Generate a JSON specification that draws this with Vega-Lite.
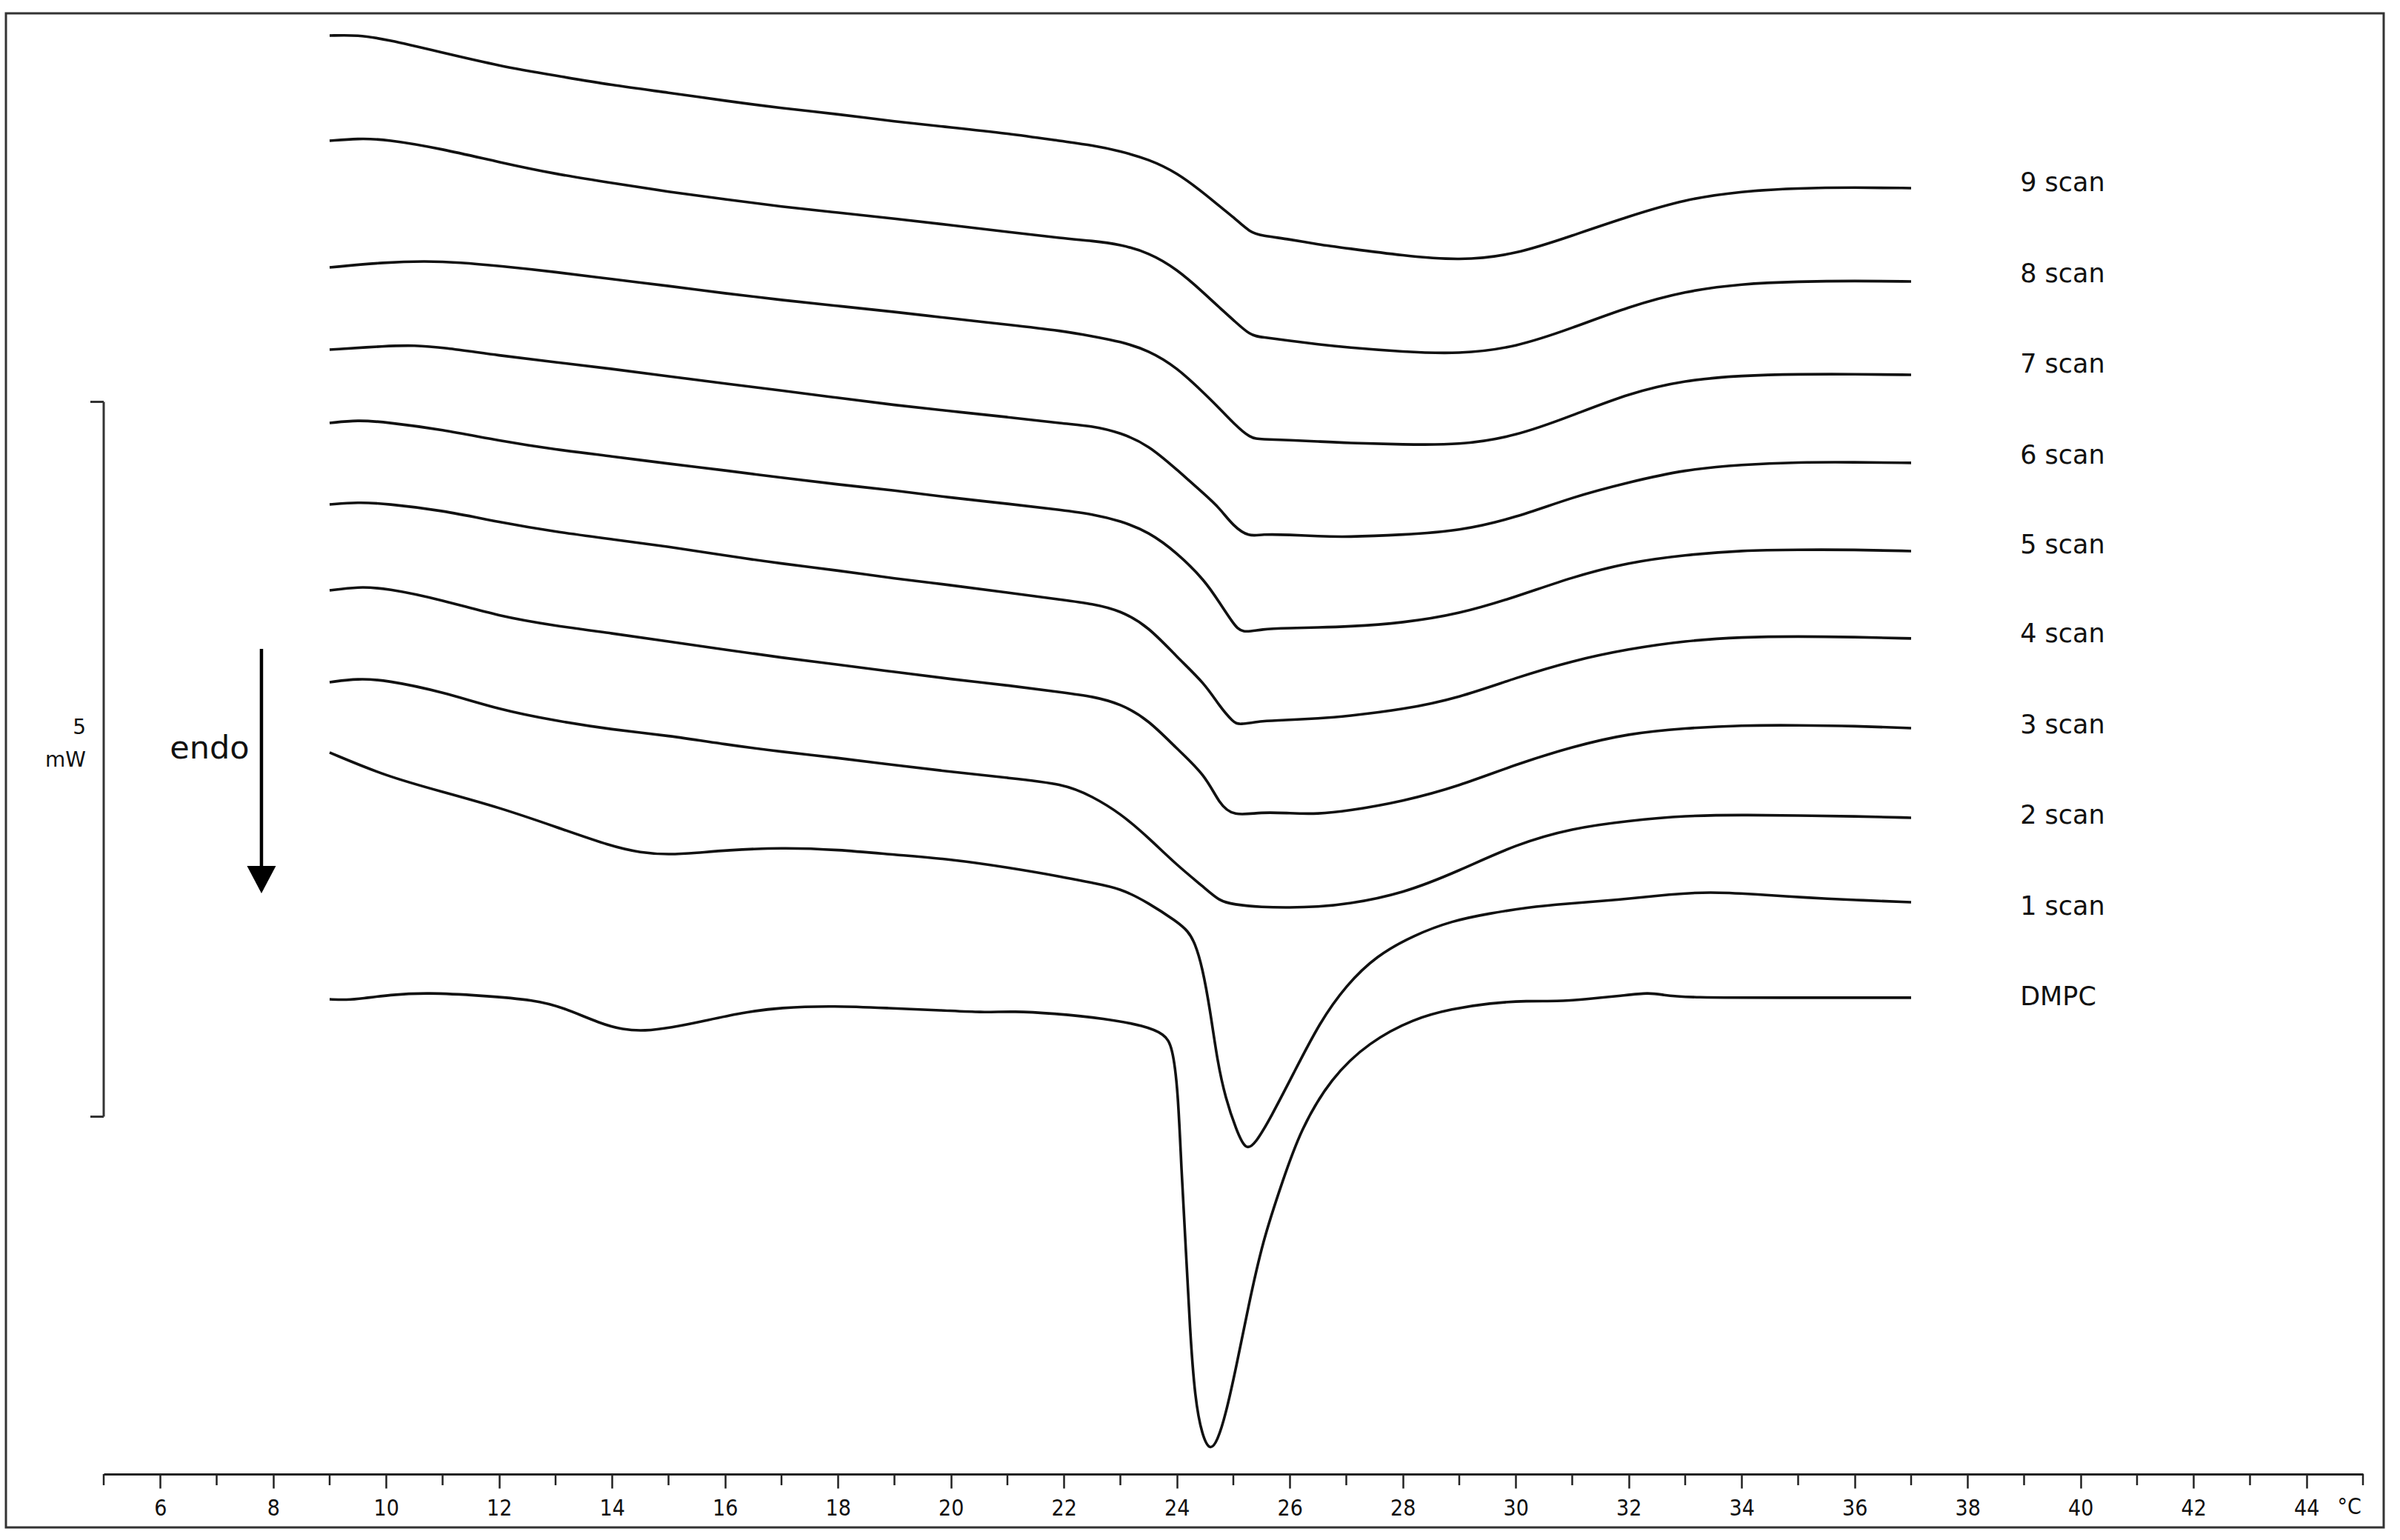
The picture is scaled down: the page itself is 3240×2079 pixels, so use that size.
{
"$schema":"https://vega.github.io/schema/vega-lite/v6.json",
"width":3050,"height":1972,"autosize":"none",
"padding":{"left":140,"top":18,"right":50,"bottom":89},
"background":"white",
"config":{"view":{"stroke":null}},
"datasets":{
"curves":[
{"series":"9 scan","t":9,"mw":10.062},{"series":"9 scan","t":9.5,"mw":10.067},{"series":"9 scan","t":10,"mw":10.036},{"series":"9 scan","t":11,"mw":9.943},{"series":"9 scan","t":12,"mw":9.85},{"series":"9 scan","t":13,"mw":9.782},{"series":"9 scan","t":14,"mw":9.715},{"series":"9 scan","t":15,"mw":9.663},{"series":"9 scan","t":16,"mw":9.606},{"series":"9 scan","t":17,"mw":9.554},{"series":"9 scan","t":18,"mw":9.513},{"series":"9 scan","t":19,"mw":9.461},{"series":"9 scan","t":20,"mw":9.42},{"series":"9 scan","t":21,"mw":9.378},{"series":"9 scan","t":22,"mw":9.321},{"series":"9 scan","t":22.5,"mw":9.295},{"series":"9 scan","t":23,"mw":9.254},{"series":"9 scan","t":23.5,"mw":9.197},{"series":"9 scan","t":24,"mw":9.104},{"series":"9 scan","t":24.5,"mw":8.953},{"series":"9 scan","t":24.75,"mw":8.87},{"series":"9 scan","t":25,"mw":8.793},{"series":"9 scan","t":25.3,"mw":8.684},{"series":"9 scan","t":25.5,"mw":8.663},{"series":"9 scan","t":26,"mw":8.637},{"series":"9 scan","t":26.5,"mw":8.601},{"series":"9 scan","t":27,"mw":8.575},{"series":"9 scan","t":28,"mw":8.523},{"series":"9 scan","t":29,"mw":8.487},{"series":"9 scan","t":30,"mw":8.53},{"series":"9 scan","t":31,"mw":8.663},{"series":"9 scan","t":32,"mw":8.798},{"series":"9 scan","t":33,"mw":8.917},{"series":"9 scan","t":34,"mw":8.974},{"series":"9 scan","t":35,"mw":8.995},{"series":"9 scan","t":36,"mw":9.0},{"series":"9 scan","t":37,"mw":8.995},
{"series":"8 scan","t":9,"mw":9.326},{"series":"8 scan","t":9.5,"mw":9.342},{"series":"8 scan","t":10,"mw":9.337},{"series":"8 scan","t":11,"mw":9.269},{"series":"8 scan","t":12,"mw":9.176},{"series":"8 scan","t":13,"mw":9.093},{"series":"8 scan","t":14,"mw":9.031},{"series":"8 scan","t":15,"mw":8.969},{"series":"8 scan","t":16,"mw":8.917},{"series":"8 scan","t":17,"mw":8.865},{"series":"8 scan","t":18,"mw":8.824},{"series":"8 scan","t":19,"mw":8.782},{"series":"8 scan","t":20,"mw":8.736},{"series":"8 scan","t":21,"mw":8.689},{"series":"8 scan","t":22,"mw":8.642},{"series":"8 scan","t":22.5,"mw":8.627},{"series":"8 scan","t":23,"mw":8.601},{"series":"8 scan","t":23.5,"mw":8.544},{"series":"8 scan","t":24,"mw":8.43},{"series":"8 scan","t":24.5,"mw":8.254},{"series":"8 scan","t":24.75,"mw":8.161},{"series":"8 scan","t":25,"mw":8.073},{"series":"8 scan","t":25.3,"mw":7.964},{"series":"8 scan","t":25.5,"mw":7.953},{"series":"8 scan","t":26,"mw":7.927},{"series":"8 scan","t":26.5,"mw":7.902},{"series":"8 scan","t":27,"mw":7.881},{"series":"8 scan","t":28,"mw":7.85},{"series":"8 scan","t":29,"mw":7.834},{"series":"8 scan","t":30,"mw":7.881},{"series":"8 scan","t":31,"mw":8.016},{"series":"8 scan","t":32,"mw":8.166},{"series":"8 scan","t":33,"mw":8.275},{"series":"8 scan","t":34,"mw":8.326},{"series":"8 scan","t":35,"mw":8.342},{"series":"8 scan","t":36,"mw":8.347},{"series":"8 scan","t":37,"mw":8.342},
{"series":"7 scan","t":9,"mw":8.44},{"series":"7 scan","t":10,"mw":8.477},{"series":"7 scan","t":10.7,"mw":8.484},{"series":"7 scan","t":11.3,"mw":8.476},{"series":"7 scan","t":12,"mw":8.451},{"series":"7 scan","t":13,"mw":8.409},{"series":"7 scan","t":14,"mw":8.358},{"series":"7 scan","t":15,"mw":8.311},{"series":"7 scan","t":16,"mw":8.259},{"series":"7 scan","t":17,"mw":8.212},{"series":"7 scan","t":18,"mw":8.171},{"series":"7 scan","t":19,"mw":8.13},{"series":"7 scan","t":20,"mw":8.083},{"series":"7 scan","t":21,"mw":8.041},{"series":"7 scan","t":22,"mw":7.995},{"series":"7 scan","t":22.5,"mw":7.959},{"series":"7 scan","t":23,"mw":7.922},{"series":"7 scan","t":23.5,"mw":7.86},{"series":"7 scan","t":24,"mw":7.741},{"series":"7 scan","t":24.5,"mw":7.554},{"series":"7 scan","t":24.75,"mw":7.456},{"series":"7 scan","t":25,"mw":7.352},{"series":"7 scan","t":25.3,"mw":7.244},{"series":"7 scan","t":25.5,"mw":7.238},{"series":"7 scan","t":26,"mw":7.233},{"series":"7 scan","t":26.5,"mw":7.223},{"series":"7 scan","t":27,"mw":7.212},{"series":"7 scan","t":28,"mw":7.202},{"series":"7 scan","t":29,"mw":7.197},{"series":"7 scan","t":30,"mw":7.259},{"series":"7 scan","t":31,"mw":7.404},{"series":"7 scan","t":32,"mw":7.56},{"series":"7 scan","t":33,"mw":7.653},{"series":"7 scan","t":34,"mw":7.684},{"series":"7 scan","t":35,"mw":7.694},{"series":"7 scan","t":36,"mw":7.694},{"series":"7 scan","t":37,"mw":7.689},
{"series":"6 scan","t":9,"mw":7.865},{"series":"6 scan","t":10,"mw":7.891},{"series":"6 scan","t":10.5,"mw":7.896},{"series":"6 scan","t":11,"mw":7.881},{"series":"6 scan","t":12,"mw":7.824},{"series":"6 scan","t":13,"mw":7.777},{"series":"6 scan","t":14,"mw":7.731},{"series":"6 scan","t":15,"mw":7.679},{"series":"6 scan","t":16,"mw":7.627},{"series":"6 scan","t":17,"mw":7.58},{"series":"6 scan","t":18,"mw":7.528},{"series":"6 scan","t":19,"mw":7.477},{"series":"6 scan","t":20,"mw":7.435},{"series":"6 scan","t":21,"mw":7.394},{"series":"6 scan","t":22,"mw":7.347},{"series":"6 scan","t":22.5,"mw":7.332},{"series":"6 scan","t":23,"mw":7.285},{"series":"6 scan","t":23.5,"mw":7.197},{"series":"6 scan","t":24,"mw":7.026},{"series":"6 scan","t":24.5,"mw":6.85},{"series":"6 scan","t":24.75,"mw":6.76},{"series":"6 scan","t":25,"mw":6.63},{"series":"6 scan","t":25.28,"mw":6.555},{"series":"6 scan","t":25.5,"mw":6.575},{"series":"6 scan","t":26,"mw":6.57},{"series":"6 scan","t":26.5,"mw":6.56},{"series":"6 scan","t":27,"mw":6.554},{"series":"6 scan","t":28,"mw":6.57},{"series":"6 scan","t":29,"mw":6.596},{"series":"6 scan","t":30,"mw":6.689},{"series":"6 scan","t":31,"mw":6.834},{"series":"6 scan","t":32,"mw":6.938},{"series":"6 scan","t":33,"mw":7.026},{"series":"6 scan","t":34,"mw":7.062},{"series":"6 scan","t":35,"mw":7.078},{"series":"6 scan","t":36,"mw":7.078},{"series":"6 scan","t":37,"mw":7.073},
{"series":"5 scan","t":9,"mw":7.352},{"series":"5 scan","t":9.5,"mw":7.373},{"series":"5 scan","t":10,"mw":7.358},{"series":"5 scan","t":11,"mw":7.306},{"series":"5 scan","t":12,"mw":7.228},{"series":"5 scan","t":13,"mw":7.166},{"series":"5 scan","t":14,"mw":7.119},{"series":"5 scan","t":15,"mw":7.067},{"series":"5 scan","t":16,"mw":7.021},{"series":"5 scan","t":17,"mw":6.969},{"series":"5 scan","t":18,"mw":6.922},{"series":"5 scan","t":19,"mw":6.881},{"series":"5 scan","t":20,"mw":6.829},{"series":"5 scan","t":21,"mw":6.788},{"series":"5 scan","t":22,"mw":6.741},{"series":"5 scan","t":22.5,"mw":6.715},{"series":"5 scan","t":23,"mw":6.668},{"series":"5 scan","t":23.5,"mw":6.591},{"series":"5 scan","t":24,"mw":6.446},{"series":"5 scan","t":24.5,"mw":6.249},{"series":"5 scan","t":24.75,"mw":6.098},{"series":"5 scan","t":25,"mw":5.948},{"series":"5 scan","t":25.15,"mw":5.88},{"series":"5 scan","t":25.5,"mw":5.912},{"series":"5 scan","t":26,"mw":5.917},{"series":"5 scan","t":26.5,"mw":5.922},{"series":"5 scan","t":27,"mw":5.927},{"series":"5 scan","t":28,"mw":5.953},{"series":"5 scan","t":29,"mw":6.016},{"series":"5 scan","t":30,"mw":6.135},{"series":"5 scan","t":31,"mw":6.275},{"series":"5 scan","t":32,"mw":6.378},{"series":"5 scan","t":33,"mw":6.43},{"series":"5 scan","t":34,"mw":6.461},{"series":"5 scan","t":35,"mw":6.466},{"series":"5 scan","t":36,"mw":6.466},{"series":"5 scan","t":37,"mw":6.456},
{"series":"4 scan","t":9,"mw":6.782},{"series":"4 scan","t":9.5,"mw":6.798},{"series":"4 scan","t":10,"mw":6.788},{"series":"4 scan","t":11,"mw":6.741},{"series":"4 scan","t":12,"mw":6.658},{"series":"4 scan","t":13,"mw":6.591},{"series":"4 scan","t":14,"mw":6.539},{"series":"4 scan","t":15,"mw":6.487},{"series":"4 scan","t":16,"mw":6.425},{"series":"4 scan","t":17,"mw":6.368},{"series":"4 scan","t":18,"mw":6.321},{"series":"4 scan","t":19,"mw":6.264},{"series":"4 scan","t":20,"mw":6.218},{"series":"4 scan","t":21,"mw":6.166},{"series":"4 scan","t":22,"mw":6.114},{"series":"4 scan","t":22.5,"mw":6.088},{"series":"4 scan","t":23,"mw":6.041},{"series":"4 scan","t":23.5,"mw":5.927},{"series":"4 scan","t":24,"mw":5.715},{"series":"4 scan","t":24.5,"mw":5.528},{"series":"4 scan","t":24.75,"mw":5.373},{"series":"4 scan","t":25,"mw":5.259},{"series":"4 scan","t":25.1,"mw":5.24},{"series":"4 scan","t":25.5,"mw":5.269},{"series":"4 scan","t":26,"mw":5.275},{"series":"4 scan","t":26.5,"mw":5.285},{"series":"4 scan","t":27,"mw":5.301},{"series":"4 scan","t":28,"mw":5.347},{"series":"4 scan","t":29,"mw":5.43},{"series":"4 scan","t":30,"mw":5.57},{"series":"4 scan","t":31,"mw":5.689},{"series":"4 scan","t":32,"mw":5.772},{"series":"4 scan","t":33,"mw":5.829},{"series":"4 scan","t":34,"mw":5.855},{"series":"4 scan","t":35,"mw":5.86},{"series":"4 scan","t":36,"mw":5.855},{"series":"4 scan","t":37,"mw":5.845},
{"series":"3 scan","t":9,"mw":6.181},{"series":"3 scan","t":9.5,"mw":6.207},{"series":"3 scan","t":10,"mw":6.197},{"series":"3 scan","t":11,"mw":6.114},{"series":"3 scan","t":12,"mw":6.0},{"series":"3 scan","t":13,"mw":5.933},{"series":"3 scan","t":14,"mw":5.881},{"series":"3 scan","t":15,"mw":5.824},{"series":"3 scan","t":16,"mw":5.767},{"series":"3 scan","t":17,"mw":5.71},{"series":"3 scan","t":18,"mw":5.663},{"series":"3 scan","t":19,"mw":5.611},{"series":"3 scan","t":20,"mw":5.56},{"series":"3 scan","t":21,"mw":5.518},{"series":"3 scan","t":22,"mw":5.466},{"series":"3 scan","t":22.5,"mw":5.44},{"series":"3 scan","t":23,"mw":5.389},{"series":"3 scan","t":23.5,"mw":5.275},{"series":"3 scan","t":24,"mw":5.073},{"series":"3 scan","t":24.5,"mw":4.891},{"series":"3 scan","t":24.75,"mw":4.689},{"series":"3 scan","t":25,"mw":4.6},{"series":"3 scan","t":25.5,"mw":4.632},{"series":"3 scan","t":26,"mw":4.622},{"series":"3 scan","t":26.5,"mw":4.617},{"series":"3 scan","t":27,"mw":4.637},{"series":"3 scan","t":28,"mw":4.705},{"series":"3 scan","t":29,"mw":4.813},{"series":"3 scan","t":30,"mw":4.964},{"series":"3 scan","t":31,"mw":5.088},{"series":"3 scan","t":32,"mw":5.181},{"series":"3 scan","t":33,"mw":5.218},{"series":"3 scan","t":34,"mw":5.238},{"series":"3 scan","t":35,"mw":5.238},{"series":"3 scan","t":36,"mw":5.233},{"series":"3 scan","t":37,"mw":5.218},
{"series":"2 scan","t":9,"mw":5.539},{"series":"2 scan","t":9.5,"mw":5.565},{"series":"2 scan","t":10,"mw":5.554},{"series":"2 scan","t":11,"mw":5.472},{"series":"2 scan","t":12,"mw":5.347},{"series":"2 scan","t":13,"mw":5.269},{"series":"2 scan","t":14,"mw":5.207},{"series":"2 scan","t":15,"mw":5.166},{"series":"2 scan","t":16,"mw":5.104},{"series":"2 scan","t":17,"mw":5.052},{"series":"2 scan","t":18,"mw":5.01},{"series":"2 scan","t":19,"mw":4.959},{"series":"2 scan","t":20,"mw":4.912},{"series":"2 scan","t":21,"mw":4.87},{"series":"2 scan","t":22,"mw":4.829},{"series":"2 scan","t":22.5,"mw":4.741},{"series":"2 scan","t":23,"mw":4.622},{"series":"2 scan","t":23.5,"mw":4.451},{"series":"2 scan","t":24,"mw":4.259},{"series":"2 scan","t":24.5,"mw":4.098},{"series":"2 scan","t":24.75,"mw":4.01},{"series":"2 scan","t":25,"mw":3.984},{"series":"2 scan","t":25.5,"mw":3.965},{"series":"2 scan","t":26,"mw":3.962},{"series":"2 scan","t":26.5,"mw":3.968},{"series":"2 scan","t":27,"mw":3.985},{"series":"2 scan","t":28,"mw":4.06},{"series":"2 scan","t":29,"mw":4.22},{"series":"2 scan","t":30,"mw":4.405},{"series":"2 scan","t":31,"mw":4.518},{"series":"2 scan","t":32,"mw":4.57},{"series":"2 scan","t":33,"mw":4.606},{"series":"2 scan","t":34,"mw":4.611},{"series":"2 scan","t":35,"mw":4.606},{"series":"2 scan","t":36,"mw":4.601},{"series":"2 scan","t":37,"mw":4.591},
{"series":"1 scan","t":9,"mw":5.047},{"series":"1 scan","t":10,"mw":4.881},{"series":"1 scan","t":11,"mw":4.772},{"series":"1 scan","t":12,"mw":4.663},{"series":"1 scan","t":13,"mw":4.528},{"series":"1 scan","t":14,"mw":4.389},{"series":"1 scan","t":14.5,"mw":4.347},{"series":"1 scan","t":15,"mw":4.332},{"series":"1 scan","t":15.5,"mw":4.345},{"series":"1 scan","t":16,"mw":4.363},{"series":"1 scan","t":17,"mw":4.383},{"series":"1 scan","t":18,"mw":4.368},{"series":"1 scan","t":19,"mw":4.332},{"series":"1 scan","t":20,"mw":4.301},{"series":"1 scan","t":21,"mw":4.244},{"series":"1 scan","t":22,"mw":4.176},{"series":"1 scan","t":22.5,"mw":4.135},{"series":"1 scan","t":23,"mw":4.098},{"series":"1 scan","t":23.5,"mw":3.995},{"series":"1 scan","t":24,"mw":3.865},{"series":"1 scan","t":24.2,"mw":3.798},{"series":"1 scan","t":24.32,"mw":3.715},{"series":"1 scan","t":24.45,"mw":3.549},{"series":"1 scan","t":24.59,"mw":3.244},{"series":"1 scan","t":24.72,"mw":2.881},{"series":"1 scan","t":24.86,"mw":2.632},{"series":"1 scan","t":25.05,"mw":2.409},{"series":"1 scan","t":25.22,"mw":2.26},{"series":"1 scan","t":25.39,"mw":2.311},{"series":"1 scan","t":25.66,"mw":2.492},{"series":"1 scan","t":26.06,"mw":2.798},{"series":"1 scan","t":26.53,"mw":3.161},{"series":"1 scan","t":27,"mw":3.42},{"series":"1 scan","t":27.53,"mw":3.625},{"series":"1 scan","t":28.2,"mw":3.77},{"series":"1 scan","t":28.87,"mw":3.87},{"series":"1 scan","t":29.54,"mw":3.922},{"series":"1 scan","t":30.2,"mw":3.964},{"series":"1 scan","t":30.88,"mw":3.99},{"series":"1 scan","t":31.8,"mw":4.016},{"series":"1 scan","t":32.77,"mw":4.057},{"series":"1 scan","t":33.43,"mw":4.073},{"series":"1 scan","t":34.2,"mw":4.057},{"series":"1 scan","t":35.16,"mw":4.031},{"series":"1 scan","t":36,"mw":4.016},{"series":"1 scan","t":37,"mw":4.0},
{"series":"DMPC","t":9,"mw":3.321},{"series":"DMPC","t":9.3,"mw":3.316},{"series":"DMPC","t":9.58,"mw":3.326},{"series":"DMPC","t":10.05,"mw":3.352},{"series":"DMPC","t":10.73,"mw":3.368},{"series":"DMPC","t":11.69,"mw":3.347},{"series":"DMPC","t":12.65,"mw":3.316},{"series":"DMPC","t":13.13,"mw":3.264},{"series":"DMPC","t":13.8,"mw":3.15},{"series":"DMPC","t":14.19,"mw":3.109},{"series":"DMPC","t":14.57,"mw":3.098},{"series":"DMPC","t":15.06,"mw":3.124},{"series":"DMPC","t":15.53,"mw":3.161},{"series":"DMPC","t":16.3,"mw":3.228},{"series":"DMPC","t":16.97,"mw":3.264},{"series":"DMPC","t":17.94,"mw":3.275},{"series":"DMPC","t":18.9,"mw":3.259},{"series":"DMPC","t":19.86,"mw":3.244},{"series":"DMPC","t":20.54,"mw":3.228},{"series":"DMPC","t":21.12,"mw":3.238},{"series":"DMPC","t":21.79,"mw":3.223},{"series":"DMPC","t":22.74,"mw":3.187},{"series":"DMPC","t":23.43,"mw":3.135},{"series":"DMPC","t":23.78,"mw":3.078},{"series":"DMPC","t":23.92,"mw":2.995},{"series":"DMPC","t":24.02,"mw":2.689},{"series":"DMPC","t":24.08,"mw":2.13},{"series":"DMPC","t":24.16,"mw":1.575},{"series":"DMPC","t":24.23,"mw":1.021},{"series":"DMPC","t":24.32,"mw":0.523},{"series":"DMPC","t":24.45,"mw":0.265},{"series":"DMPC","t":24.59,"mw":0.16},{"series":"DMPC","t":24.72,"mw":0.234},{"series":"DMPC","t":24.86,"mw":0.409},{"series":"DMPC","t":25.05,"mw":0.746},{"series":"DMPC","t":25.26,"mw":1.161},{"series":"DMPC","t":25.52,"mw":1.632},{"series":"DMPC","t":25.87,"mw":2.047},{"series":"DMPC","t":26.19,"mw":2.409},{"series":"DMPC","t":26.73,"mw":2.772},{"series":"DMPC","t":27.4,"mw":3.021},{"series":"DMPC","t":28.2,"mw":3.187},{"series":"DMPC","t":28.87,"mw":3.254},{"series":"DMPC","t":29.54,"mw":3.295},{"series":"DMPC","t":30.21,"mw":3.311},{"series":"DMPC","t":30.74,"mw":3.306},{"series":"DMPC","t":31.22,"mw":3.321},{"series":"DMPC","t":31.89,"mw":3.347},{"series":"DMPC","t":32.36,"mw":3.368},{"series":"DMPC","t":32.6,"mw":3.352},{"series":"DMPC","t":33,"mw":3.332},{"series":"DMPC","t":35,"mw":3.332},{"series":"DMPC","t":37,"mw":3.332}
],
"labels":[
{"t":38.93,"mw":9.031,"text":"9 scan"},{"t":38.93,"mw":8.394,"text":"8 scan"},{"t":38.93,"mw":7.762,"text":"7 scan"},{"t":38.93,"mw":7.124,"text":"6 scan"},{"t":38.93,"mw":6.497,"text":"5 scan"},{"t":38.93,"mw":5.876,"text":"4 scan"},{"t":38.93,"mw":5.238,"text":"3 scan"},{"t":38.93,"mw":4.606,"text":"2 scan"},{"t":38.93,"mw":3.969,"text":"1 scan"},{"t":38.93,"mw":3.337,"text":"DMPC"}
],
"frame":[{"t":3.269,"mw":-0.373,"t2":45.367,"mw2":10.2176}],
"minorticks":[{"t":5,"mw":0,"mw2":-0.078},{"t":7,"mw":0,"mw2":-0.078},{"t":9,"mw":0,"mw2":-0.078},{"t":11,"mw":0,"mw2":-0.078},{"t":13,"mw":0,"mw2":-0.078},{"t":15,"mw":0,"mw2":-0.078},{"t":17,"mw":0,"mw2":-0.078},{"t":19,"mw":0,"mw2":-0.078},{"t":21,"mw":0,"mw2":-0.078},{"t":23,"mw":0,"mw2":-0.078},{"t":25,"mw":0,"mw2":-0.078},{"t":27,"mw":0,"mw2":-0.078},{"t":29,"mw":0,"mw2":-0.078},{"t":31,"mw":0,"mw2":-0.078},{"t":33,"mw":0,"mw2":-0.078},{"t":35,"mw":0,"mw2":-0.078},{"t":37,"mw":0,"mw2":-0.078},{"t":39,"mw":0,"mw2":-0.078},{"t":41,"mw":0,"mw2":-0.078},{"t":43,"mw":0,"mw2":-0.078},{"t":45,"mw":0,"mw2":-0.078}],
"scalebar":[{"t":5,"mw":2.5,"t2":5,"mw2":7.5},{"t":4.764,"mw":7.5,"t2":5,"mw2":7.5},{"t":4.764,"mw":2.5,"t2":5,"mw2":2.5}],
"unit":[{"t":4.685,"mw":5.218,"text":"5"},{"t":4.685,"mw":4.99,"text":"mW"}],
"endo":[{"t":6.875,"mw":5.073,"text":"endo"}],
"arrowline":[{"t":7.793,"mw":5.772,"t2":7.793,"mw2":4.2}],
"arrowhead":[{"t":7.793,"mw":4.158}],
"unitx":[{"t":44.76,"mw":-0.233,"text":"°C"}]
},
"encoding":{
 "x":{"field":"t","type":"quantitative","scale":{"domain":[5,45],"nice":false,"zero":false},
   "axis":{"values":[6,8,10,12,14,16,18,20,22,24,26,28,30,32,34,36,38,40,42,44],
    "title":null,"grid":false,"domain":true,"ticks":true,"labels":true,"domainColor":"#222222","domainWidth":3,"tickColor":"#222222","tickWidth":2.5,"tickSize":19,
    "format":"d","labelFont":"DejaVu Sans Condensed","labelFontSize":30,"labelColor":"#111111","labelPadding":12,"labelFlush":false,"labelOverlap":false}},
 "y":{"field":"mw","type":"quantitative","scale":{"domain":[0,10.2176],"nice":false,"zero":false},"axis":null}
},
"layer":[
{"data":{"name":"frame"},"mark":{"type":"rect","fill":"transparent","stroke":"#333333","strokeWidth":3},
 "encoding":{"x2":{"field":"t2"},"y2":{"field":"mw2"}}},
{"data":{"name":"curves"},"mark":{"type":"line","interpolate":"basis","color":"#111111","strokeWidth":3.6},
 "encoding":{"detail":{"field":"series"}}},
{"data":{"name":"minorticks"},"mark":{"type":"rule","color":"#222222","strokeWidth":2.5},
 "encoding":{"y2":{"field":"mw2"}}},
{"data":{"name":"scalebar"},"mark":{"type":"rule","color":"#333333","strokeWidth":3},
 "encoding":{"x2":{"field":"t2"},"y2":{"field":"mw2"}}},
{"data":{"name":"arrowline"},"mark":{"type":"rule","color":"#000000","strokeWidth":4.5},
 "encoding":{"x2":{"field":"t2"},"y2":{"field":"mw2"}}},
{"data":{"name":"arrowhead"},"mark":{"type":"point","shape":"M-1,-0.95L1,-0.95L0,0.95Z","filled":true,"color":"#000000","opacity":1,"size":1521,"strokeWidth":0},
 "encoding":{}},
{"data":{"name":"labels"},"mark":{"type":"text","align":"left","baseline":"middle","font":"DejaVu Sans","fontSize":35,"color":"#111111"},
 "encoding":{"text":{"field":"text"}}},
{"data":{"name":"unit"},"mark":{"type":"text","align":"right","baseline":"middle","font":"DejaVu Sans","fontSize":28,"color":"#111111"},
 "encoding":{"text":{"field":"text"}}},
{"data":{"name":"endo"},"mark":{"type":"text","align":"center","baseline":"middle","font":"DejaVu Sans","fontSize":43,"color":"#111111"},
 "encoding":{"text":{"field":"text"}}},
{"data":{"name":"unitx"},"mark":{"type":"text","align":"center","baseline":"middle","font":"DejaVu Sans Condensed","fontSize":30,"color":"#111111"},
 "encoding":{"text":{"field":"text"}}}
]
}
